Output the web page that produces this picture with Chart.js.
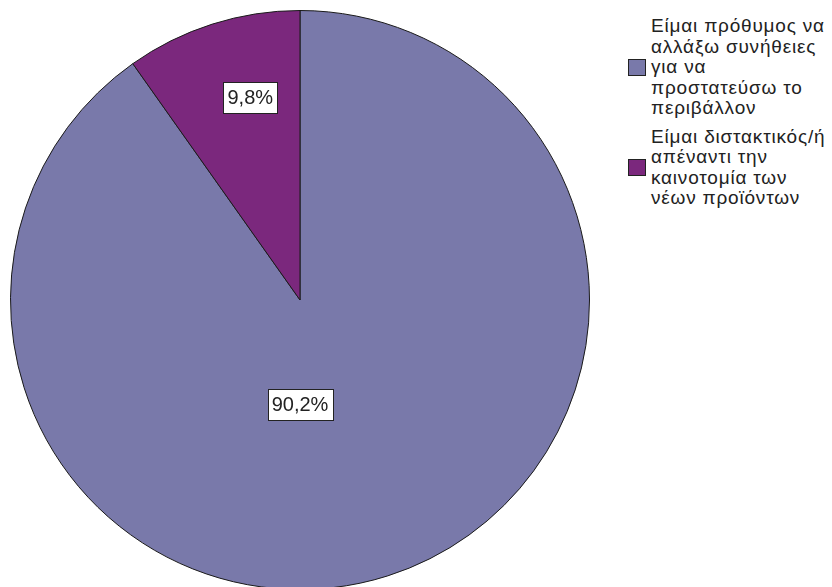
<!DOCTYPE html>
<html>
<head>
<meta charset="utf-8">
<script src="https://cdn.jsdelivr.net/npm/chart.js@4"></script>
<style>
  html, body { margin: 0; padding: 0; background: #fff; overflow: hidden; width: 832px; height: 587px; }
  #wrap { position: absolute; left: 0; top: 0; width: 600px; height: 600px; }
  #legend { position: absolute; left: 628px; top: 16px; width: 204px; font-family: "Liberation Sans", Arial, sans-serif; font-size: 19px; letter-spacing: 0.8px; line-height: 20.5px; color: #222; }
  .item { display: flex; align-items: center; margin-bottom: 8px; }
  .sw { width: 18px; height: 17px; border: 1px solid #222; box-sizing: border-box; flex: none; margin-right: 5px; }
  .txt { white-space: nowrap; }
</style>
</head>
<body>
<div id="wrap"><canvas id="c"></canvas></div>
<div id="legend"></div>
<script>
const categories = [
  ["Είμαι πρόθυμος να", "αλλάξω συνήθειες", "για να", "προστατεύσω το", "περιβάλλον"],
  ["Είμαι διστακτικός/ή", "απέναντι την", "καινοτομία των", "νέων προϊόντων"]
];
const percentages = [90.2, 9.8];
const valueLabels = ["90,2%", "9,8%"];
const colors = ["#7979AA", "#7B287D"];

// label placement relative to the arc centre (fraction of radius, angle in degrees)
const labelPlacement = [{ r: 0.36, deg: 90 }, { r: 0.72, deg: -103.8 }];

const labelPlugin = {
  id: 'boxLabels',
  afterDatasetsDraw(chart) {
    const ctx = chart.ctx;
    const meta = chart.getDatasetMeta(0);
    ctx.save();
    ctx.font = '20px "Liberation Sans", Arial, sans-serif';
    ctx.textAlign = 'center';
    ctx.textBaseline = 'middle';
    meta.data.forEach((arc, i) => {
      const p = labelPlacement[i];
      const a = p.deg * Math.PI / 180;
      const x = arc.x + Math.cos(a) * arc.outerRadius * p.r;
      const y = arc.y + Math.sin(a) * arc.outerRadius * p.r;
      const txt = valueLabels[i];
      const w = ctx.measureText(txt).width + 8;
      const h = 31;
      ctx.fillStyle = '#fff';
      ctx.fillRect(Math.round(x - w / 2) + 0.5, Math.round(y - h / 2) + 0.5, Math.round(w), h);
      ctx.strokeStyle = '#222';
      ctx.lineWidth = 1;
      ctx.strokeRect(Math.round(x - w / 2) + 0.5, Math.round(y - h / 2) + 0.5, Math.round(w), h);
      ctx.fillStyle = '#222';
      ctx.fillText(txt, x, y + 1);
    });
    ctx.restore();
  }
};

const chart = new Chart(document.getElementById('c'), {
  type: 'pie',
  data: {
    labels: categories,
    datasets: [{
      data: percentages,
      backgroundColor: colors,
      borderColor: '#1a1a1a',
      borderWidth: 1
    }]
  },
  options: {
    responsive: true,
    maintainAspectRatio: false,
    animation: false,
    layout: { padding: 10 },
    plugins: { legend: { display: false }, tooltip: { enabled: false } }
  },
  plugins: [labelPlugin]
});

const legendEl = document.getElementById('legend');
chart.data.labels.forEach((lines, i) => {
  const item = document.createElement('div');
  item.className = 'item';
  const sw = document.createElement('div');
  sw.className = 'sw';
  sw.style.background = chart.data.datasets[0].backgroundColor[i];
  const t = document.createElement('div');
  t.className = 'txt';
  lines.forEach((ln, k) => {
    if (k) t.appendChild(document.createElement('br'));
    t.appendChild(document.createTextNode(ln));
  });
  item.appendChild(sw);
  item.appendChild(t);
  legendEl.appendChild(item);
});
</script>
</body>
</html>
